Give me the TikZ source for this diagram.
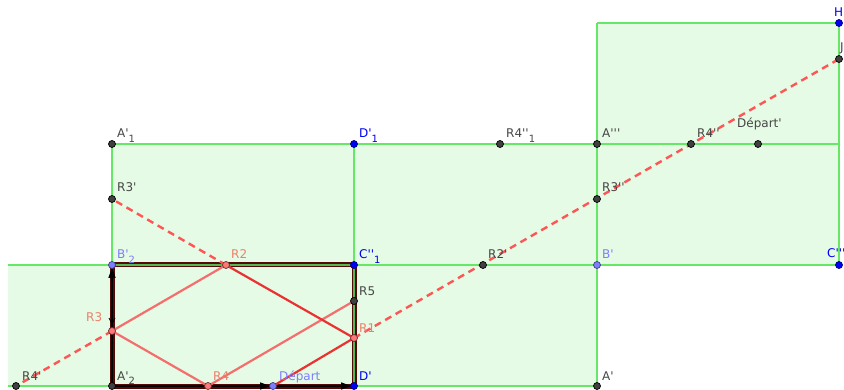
\documentclass[tikz,border=0pt]{standalone}
\usepackage{fontspec}
\newfontfamily\lab{DejaVu Sans}
\usetikzlibrary{calc,arrows.meta}
\definecolor{fillg}{RGB}{229,251,229}
\definecolor{lineg}{RGB}{102,232,102}
\definecolor{ptdark}{RGB}{64,64,64}
\definecolor{ptblue}{RGB}{0,0,245}
\definecolor{ptlav}{RGB}{125,125,255}
\definecolor{ptsal}{RGB}{255,120,120}
\definecolor{labdark}{RGB}{70,70,70}
\definecolor{labsal}{RGB}{236,128,108}
\definecolor{reddark}{RGB}{235,50,50}
\definecolor{redlight}{RGB}{245,110,110}
\definecolor{reddash}{RGB}{255,85,85}
\definecolor{maroonc}{RGB}{85,8,8}
\newcommand\sbs[1]{\raisebox{-5pt}{\fontsize{10}{12}\selectfont #1}}
\tikzset{
  gline/.style={draw=lineg, line width=1.3pt},
  redd/.style={draw=reddark, line width=2.2pt},
  redl/.style={draw=redlight, line width=2.2pt},
  dsh/.style={draw=reddash, line width=2.4pt, dash pattern=on 7pt off 5pt},
  pt/.style={circle, inner sep=0pt, minimum size=7pt, line width=0.7pt},
  dpt/.style={pt, fill=ptdark, draw=black},
  bpt/.style={pt, fill=ptblue, draw=blue!50!black},
  lpt/.style={pt, fill=ptlav, draw=ptlav!50!black},
  spt/.style={pt, fill=ptsal, draw=ptsal!40!black},
  lbl/.style={anchor=base west, inner sep=0pt, font=\lab\fontsize{12}{14}\selectfont},
  tipv/.style={-{Triangle[length=10pt,width=7pt]}, shorten >=3pt},
}
\begin{document}
\begin{tikzpicture}[x=1pt,y=-1pt]
\useasboundingbox (0,0) rectangle (844,390);
% geometry
\coordinate (A1) at (112,144);
\coordinate (D1) at (354,144);
\coordinate (R4q1) at (500,144);
\coordinate (A3) at (597,144);
\coordinate (R4q) at (691,144);
\coordinate (Dq) at (758,144);
\coordinate (K) at (839,144);
\coordinate (G) at (597,23);
\coordinate (H) at (839,23);
\coordinate (J) at (839,59);
\coordinate (R3p) at (112,199);
\coordinate (R3q) at (597,199);
\coordinate (L1) at (8,265);
\coordinate (B2) at (112,265);
\coordinate (R2) at (226,265);
\coordinate (C1) at (354,265);
\coordinate (R2p) at (483,265);
\coordinate (Bp) at (597,265);
\coordinate (C3) at (839,265);
\coordinate (R5) at (354,301);
\coordinate (R3) at (112,331);
\coordinate (R1) at (354,338);
\coordinate (L2) at (8,386);
\coordinate (R4p) at (16,386);
\coordinate (A2) at (112,386);
\coordinate (R4) at (208,386);
\coordinate (Dep) at (273,386);
\coordinate (Dp) at (354,386);
\coordinate (Ap) at (597,386);
% fills
\fill[fillg] (L1) rectangle (Ap);
\fill[fillg] (A1) rectangle (C3);
\fill[fillg] (G) rectangle (K);
% green lines
\draw[gline] (L1) -- (C3);
\draw[gline] (L2) -- (Ap);
\draw[gline] (A1) -- (K);
\draw[gline] (G) -- (H);
\draw[gline] (A1) -- (A2);
\draw[gline] (D1) -- (Dp);
\draw[gline] (G) -- (Ap);
\draw[gline] (H) -- (C3);
% main rectangle border
\draw[draw=maroonc, line width=5pt] (A2) -- (B2) -- (C1) -- (Dp) -- cycle;
\draw[draw=lineg!80!black, line width=1.2pt] (B2) -- (C1) -- (Dp);
\draw[black, line width=1.6pt] (Dp) -- (A2) -- (B2);
% red path
\draw[redl] (R2) -- (R3) -- (R4) -- (R5);
\draw[redd] (Dep) -- (R1) -- (R2);
\draw[dsh] (R1) -- (J);
\draw[dsh] (R2) -- (R3p);
\draw[dsh] (R3) -- (R4p);
% arrows
\draw[black, line width=1.6pt, tipv] (A2) -- (Dep);
\draw[black, line width=1.6pt, tipv] (Dep) -- (Dp);
\draw[black, line width=1.6pt, tipv] (A2) -- (B2);
\draw[black, line width=0.8pt] ($(R3)+(-3,-13)$) -- ($(R3)+(0,-7)$) -- ($(R3)+(3,-13)$);
% points
\node[dpt] (pA1) at (A1) {};
\node[bpt] (pD1) at (D1) {};
\node[dpt] (pR4q1) at (R4q1) {};
\node[dpt] (pA3) at (A3) {};
\node[dpt] (pR4q) at (R4q) {};
\node[dpt] (pDq) at (Dq) {};
\node[bpt] (pH) at (H) {};
\node[dpt] (pJ) at (J) {};
\node[dpt] (pR3p) at (R3p) {};
\node[dpt] (pR3q) at (R3q) {};
\node[lpt] (pB2) at (B2) {};
\node[spt] (pR2) at (R2) {};
\node[bpt] (pC1) at (C1) {};
\node[dpt] (pR2p) at (R2p) {};
\node[lpt] (pBp) at (Bp) {};
\node[bpt] (pC3) at (C3) {};
\node[dpt] (pR5) at (R5) {};
\node[spt] (pR3) at (R3) {};
\node[spt] (pR1) at (R1) {};
\node[dpt] (pR4p) at (R4p) {};
\node[dpt] (pA2) at (A2) {};
\node[spt] (pR4) at (R4) {};
\node[lpt] (pDep) at (Dep) {};
\node[bpt] (pDp) at (Dp) {};
\node[dpt] (pAp) at (Ap) {};
% labels
\node[lbl, text=labdark] (tA1) at ($(A1)+(5,-6)$) {A'\sbs{1}};
\node[lbl, text=ptblue] (tD1) at ($(D1)+(5,-6)$) {D'\sbs{1}};
\node[lbl, text=labdark] (tR4q1) at ($(R4q1)+(6,-6)$) {R4''\sbs{1}};
\node[lbl, text=labdark] (tA3) at ($(A3)+(5,-6)$) {A'''};
\node[lbl, text=labdark] (tR4q) at ($(R4q)+(6,-6)$) {R4''};
\node[lbl, text=labdark] (tDq) at ($(Dq)+(-21,-16)$) {Départ'};
\node[lbl, text=ptblue] (tH) at ($(H)+(-5,-6)$) {H};
\node[lbl, text=labdark] (tJ) at ($(J)+(1,-7)$) {J};
\node[lbl, text=labdark] (tR3p) at ($(R3p)+(5,-7)$) {R3'};
\node[lbl, text=labdark] (tR3q) at ($(R3q)+(5,-7)$) {R3''};
\node[lbl, text=ptlav] (tB2) at ($(B2)+(5,-6)$) {B'\sbs{2}};
\node[lbl, text=labsal] (tR2) at ($(R2)+(5,-6)$) {R2};
\node[lbl, text=ptblue] (tC1) at ($(C1)+(5,-6)$) {C''\sbs{1}};
\node[lbl, text=labdark] (tR2p) at ($(R2p)+(5,-6)$) {R2'};
\node[lbl, text=ptlav] (tBp) at ($(Bp)+(5,-6)$) {B'};
\node[lbl, text=ptblue] (tC3) at ($(C3)+(-12,-7)$) {C'''};
\node[lbl, text=labdark] (tR5) at ($(R5)+(5,-6)$) {R5};
\node[lbl, text=labsal] (tR1) at ($(R1)+(5,-5)$) {R1};
\node[lbl, text=labsal] (tR3) at ($(R3)+(-26,-9)$) {R3};
\node[lbl, text=labdark] (tR4p) at ($(R4p)+(6,-6)$) {R4'};
\node[lbl, text=labdark] (tA2) at ($(A2)+(5,-6)$) {A'\sbs{2}};
\node[lbl, text=labsal] (tR4) at ($(R4)+(5,-6)$) {R4};
\node[lbl, text=ptlav] (tDep) at ($(Dep)+(6,-6)$) {Départ};
\node[lbl, text=ptblue] (tDp) at ($(Dp)+(5,-6)$) {D'};
\node[lbl, text=labdark] (tAp) at ($(Ap)+(5,-6)$) {A'};
\end{tikzpicture}
\end{document}
